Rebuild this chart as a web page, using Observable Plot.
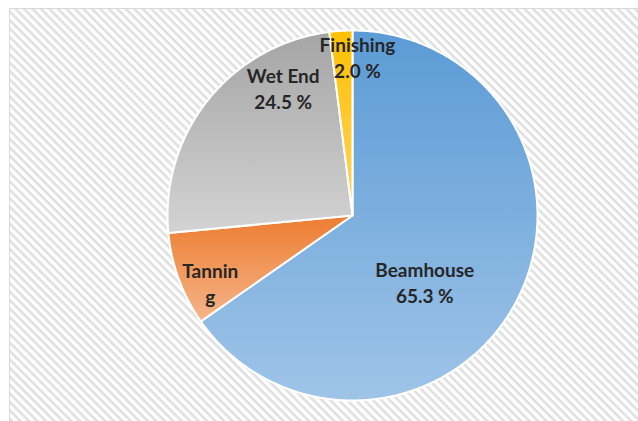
<!DOCTYPE html>
<html>
<head>
<meta charset="utf-8">
<script src="https://cdn.jsdelivr.net/npm/d3@7"></script>
<script src="https://cdn.jsdelivr.net/npm/@observablehq/plot@0.6"></script>
<style>
  html, body { margin: 0; padding: 0; background: #fff; }
  #chart { width: 638px; height: 421px; }
</style>
</head>
<body>
<div id="chart"></div>
<script>
// ---- data ----
const categories = ["Beamhouse", "Tanning", "Wet End", "Finishing"];
const shares = [65.3, 8.2, 24.5, 2.0];
const labelLines = [["Beamhouse", "65.3 %"], ["Tannin", "g"], ["Wet End", "24.5 %"], ["Finishing", "2.0 %"]];

// ---- style / layout ----
const W = 638, H = 421;
const cx = 352, cy = 215, R = 185;
const gradTop = ["#5b9bd5", "#ed7d31", "#a5a5a5", "#ffc000"];
const gradBottom = ["#9fc4e8", "#f5b48a", "#d3d3d3", "#ffd466"];
// label placement in polar form (angle in degrees clockwise from 12 o'clock, radius fraction)
const labelPolar = [[132.5, 0.53], [244.8, 0.85], [331.5, 0.785], [1.8, 0.86]];

// ---- derived ----
const pie = d3.pie().sort(null).value(d => d)(shares);
const poly = [];
pie.forEach((p, i) => {
  poly.push({cat: categories[i], u: 0, v: 0});
  const n = Math.max(2, Math.ceil((p.endAngle - p.startAngle) / 0.01));
  for (let k = 0; k <= n; k++) {
    const a = p.startAngle + (p.endAngle - p.startAngle) * k / n;
    poly.push({cat: categories[i], u: Math.sin(a), v: Math.cos(a)});
  }
  poly.push({cat: categories[i], u: 0, v: 0});
});
const labels = [];
labelLines.forEach((lines, i) => {
  const a = labelPolar[i][0] * Math.PI / 180, r = labelPolar[i][1];
  labels.push({text: lines.join("\n"), u: Math.sin(a) * r, v: Math.cos(a) * r});
});

const fillFor = d3.scaleOrdinal(categories, categories.map((c, i) => `url(#g${i})`));

const defsMark = () => {
  const svgNS = "http://www.w3.org/2000/svg";
  const g = document.createElementNS(svgNS, "g");
  const defs = document.createElementNS(svgNS, "defs");
  const pat = document.createElementNS(svgNS, "pattern");
  pat.setAttribute("id", "hatch");
  pat.setAttribute("patternUnits", "userSpaceOnUse");
  pat.setAttribute("width", "6");
  pat.setAttribute("height", "6");
  pat.setAttribute("patternTransform", "rotate(45)");
  const pr = document.createElementNS(svgNS, "rect");
  pr.setAttribute("width", "6"); pr.setAttribute("height", "6"); pr.setAttribute("fill", "#ffffff");
  const pl = document.createElementNS(svgNS, "rect");
  pl.setAttribute("width", "6"); pl.setAttribute("height", "2.6"); pl.setAttribute("fill", "#e0e0e0");
  pat.appendChild(pr); pat.appendChild(pl);
  defs.appendChild(pat);
  categories.forEach((c, i) => {
    const lg = document.createElementNS(svgNS, "linearGradient");
    lg.setAttribute("id", `g${i}`);
    lg.setAttribute("x1", "0"); lg.setAttribute("y1", "0");
    lg.setAttribute("x2", "0"); lg.setAttribute("y2", "1");
    [[0, gradTop[i]], [1, gradBottom[i]]].forEach(([o, col]) => {
      const s = document.createElementNS(svgNS, "stop");
      s.setAttribute("offset", o); s.setAttribute("stop-color", col);
      lg.appendChild(s);
    });
    defs.appendChild(lg);
  });
  g.appendChild(defs);
  const bg = document.createElementNS(svgNS, "rect");
  bg.setAttribute("x", 9); bg.setAttribute("y", 8);
  bg.setAttribute("width", W - 9); bg.setAttribute("height", H - 8);
  bg.setAttribute("fill", "url(#hatch)");
  g.appendChild(bg);
  const b = document.createElementNS(svgNS, "path");
  b.setAttribute("d", `M9.5,${H}V8.5H${W}`);
  b.setAttribute("fill", "none"); b.setAttribute("stroke", "#d9d9d9"); b.setAttribute("stroke-width", "1");
  g.appendChild(b);
  return g;
};

const chart = Plot.plot({
  width: W, height: H, margin: 0,
  x: {type: "linear", domain: [-cx / R, (W - cx) / R], range: [0, W], axis: null},
  y: {type: "linear", domain: [-(H - cy) / R, cy / R], range: [H, 0], axis: null},
  style: {background: "#fff", overflow: "visible"},
  marks: [
    defsMark,
    Plot.line(poly, {x: "u", y: "v", z: "cat", fill: d => fillFor(d.cat), stroke: "#ffffff", strokeWidth: 2, strokeLinejoin: "round", curve: "linear"}),
    Plot.text(labels, {x: "u", y: "v", text: "text", fill: "#262626", fontSize: 19, fontWeight: "bold", fontFamily: "Lato, 'Open Sans', sans-serif", lineHeight: 1.37})
  ]
});
document.getElementById("chart").appendChild(chart);
</script>
</body>
</html>
